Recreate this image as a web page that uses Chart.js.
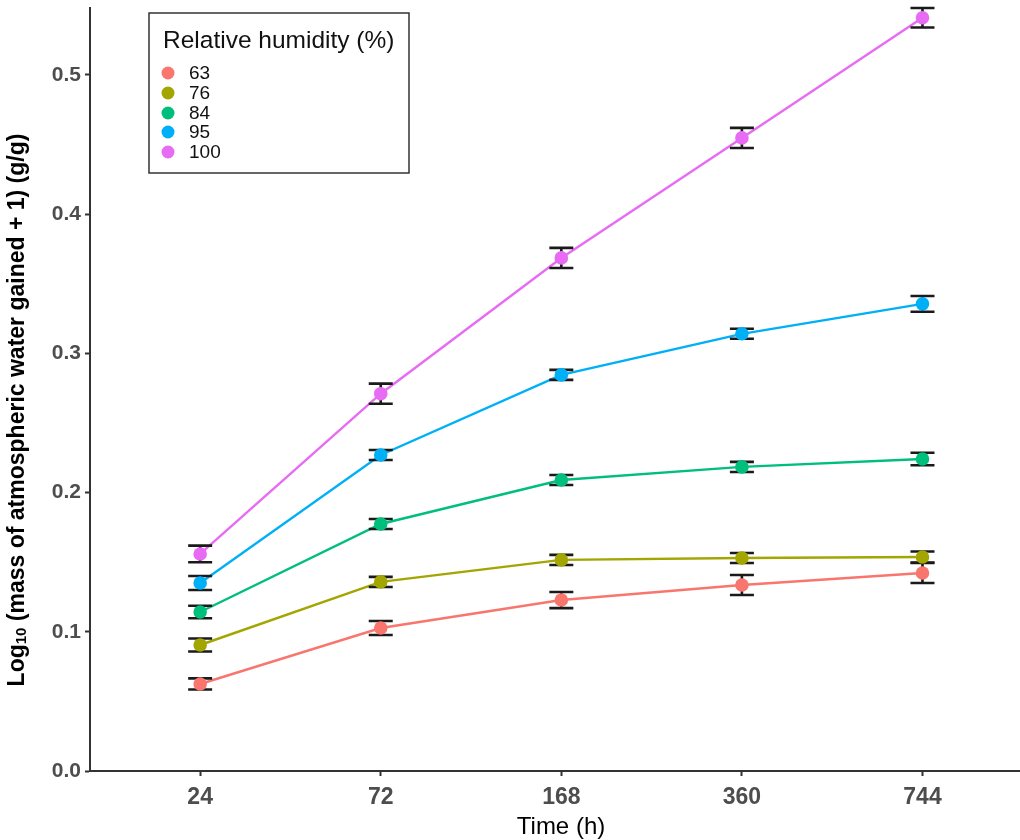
<!DOCTYPE html>
<html>
<head>
<meta charset="utf-8">
<title>Atmospheric water gain</title>
<script src="https://cdn.jsdelivr.net/npm/chart.js@4.4.6/dist/chart.umd.min.js"></script>
<style>
  body { margin: 0; background: #ffffff; }
  #wrap { width: 1020px; height: 840px; }
</style>
</head>
<body>
<div id="wrap"><canvas id="graficaAgua" width="1020" height="840"></canvas></div>
<script>
// categories on the x axis (hours)
const tiempos = ["24", "72", "168", "360", "744"];
const yTicks = [0, 0.1, 0.2, 0.3, 0.4, 0.5];

// relative humidity groups
const humedades = ["63", "76", "84", "95", "100"];
const colores = ["#F8766D", "#A3A500", "#00BF7D", "#00B0F6", "#E76BF3"];

// mean log10(mass gained + 1) per humidity, one value per time
const hr63 = [0.0625, 0.1027, 0.1228, 0.1336, 0.1422];
const hr76 = [0.0905, 0.1358, 0.1516, 0.1530, 0.1537];
const hr84 = [0.1142, 0.1774, 0.2090, 0.2184, 0.2241];
const hr95 = [0.1350, 0.2270, 0.2845, 0.3140, 0.3355];
const hr100 = [0.1559, 0.2710, 0.3685, 0.4547, 0.5410];

// standard errors
const err63 = [0.0040, 0.0050, 0.0058, 0.0072, 0.0072];
const err76 = [0.0047, 0.0036, 0.0036, 0.0036, 0.0040];
const err84 = [0.0045, 0.0036, 0.0036, 0.0036, 0.0045];
const err95 = [0.0050, 0.0036, 0.0036, 0.0036, 0.0057];
const err100 = [0.0060, 0.0072, 0.0072, 0.0072, 0.0070];

const medias = [hr63, hr76, hr84, hr95, hr100];
const errores = [err63, err76, err84, err95, err100];

const FUENTE = "'Liberation Sans', Arial, sans-serif";

function puntosSerie(valores) {
    return valores.map((v, j) => ({ x: j, y: v }));
}

// error bars go under the points but over the lines
const pluginErrores = {
    id: 'errores',
    beforeDatasetsDraw(chart) {
        chart.$erroresListos = false;
    },
    beforeDatasetDraw(chart, args) {
        const ds = chart.data.datasets[args.index];
        if (chart.$erroresListos || ds.tipo !== 'puntos') return;
        chart.$erroresListos = true;
        const ctx = chart.ctx;
        const xs = chart.scales.x;
        const ys = chart.scales.y;
        const medio = 12;
        ctx.save();
        ctx.strokeStyle = '#1a1a1a';
        ctx.lineWidth = 2.6;
        medias.forEach((serie, i) => {
            serie.forEach((v, j) => {
                const px = xs.getPixelForValue(j);
                const arriba = ys.getPixelForValue(v + errores[i][j]);
                const abajo = ys.getPixelForValue(v - errores[i][j]);
                ctx.beginPath();
                ctx.moveTo(px, arriba);
                ctx.lineTo(px, abajo);
                ctx.moveTo(px - medio, arriba);
                ctx.lineTo(px + medio, arriba);
                ctx.moveTo(px - medio, abajo);
                ctx.lineTo(px + medio, abajo);
                ctx.stroke();
            });
        });
        ctx.restore();
    }
};

// legend box inside the panel plus the two axis titles
const pluginLeyenda = {
    id: 'leyenda',
    afterDraw(chart) {
        const ctx = chart.ctx;
        ctx.save();
        ctx.fillStyle = '#ffffff';
        ctx.fillRect(149, 13, 260, 160);
        ctx.strokeStyle = '#333333';
        ctx.lineWidth = 1.5;
        ctx.strokeRect(149, 13, 260, 160);

        ctx.fillStyle = '#111111';
        ctx.textAlign = 'left';
        ctx.textBaseline = 'alphabetic';
        ctx.font = '24.5px ' + FUENTE;
        ctx.fillText('Relative humidity (%)', 163, 48);

        ctx.font = '19px ' + FUENTE;
        ctx.textBaseline = 'middle';
        const filas = [73, 93, 113, 132, 152];
        humedades.forEach((h, i) => {
            ctx.fillStyle = colores[i];
            ctx.beginPath();
            ctx.arc(168, filas[i], 6.5, 0, Math.PI * 2);
            ctx.fill();
            ctx.fillStyle = '#111111';
            ctx.fillText(h, 189, filas[i] + 1);
        });

        // axis titles
        ctx.fillStyle = '#000000';
        ctx.textAlign = 'center';
        ctx.textBaseline = 'middle';
        ctx.font = '24px ' + FUENTE;
        ctx.fillText('Time (h)', 561, 827);

        ctx.translate(18, 410);
        ctx.rotate(-Math.PI / 2);
        const a = 'Log';
        const sub = '10';
        const b = ' (mass of atmospheric water gained + 1) (g/g)';
        ctx.font = 'bold 23px ' + FUENTE;
        const wa = ctx.measureText(a).width;
        const wb = ctx.measureText(b).width;
        ctx.font = 'bold 15px ' + FUENTE;
        const ws = ctx.measureText(sub).width;
        const x0 = -(wa + ws + wb) / 2;
        ctx.textAlign = 'left';
        ctx.font = 'bold 23px ' + FUENTE;
        ctx.fillText(a, x0, 0);
        ctx.font = 'bold 15px ' + FUENTE;
        ctx.fillText(sub, x0 + wa, 4);
        ctx.font = 'bold 23px ' + FUENTE;
        ctx.fillText(b, x0 + wa + ws, 0);
        ctx.restore();
    }
};

document.addEventListener('DOMContentLoaded', function () {

    function crearDatasets() {
        const lineas = medias.map((serie, i) => ({
            label: humedades[i],
            tipo: 'linea',
            data: puntosSerie(serie),
            borderColor: colores[i],
            borderWidth: 2.4,
            pointRadius: 0,
            fill: false,
            tension: 0,
            order: 20 - i
        }));
        const puntos = medias.map((serie, i) => ({
            label: humedades[i],
            tipo: 'puntos',
            data: puntosSerie(serie),
            showLine: false,
            backgroundColor: colores[i],
            borderColor: colores[i],
            borderWidth: 0,
            pointRadius: 6.8,
            order: 10 - i
        }));
        return lineas.concat(puntos);
    }

    function renderGrafica() {
        const ctx = document.getElementById('graficaAgua').getContext('2d');
        new Chart(ctx, {
            type: 'line',
            data: { datasets: crearDatasets() },
            plugins: [pluginErrores, pluginLeyenda],
            options: {
                responsive: false,
                animation: false,
                layout: { autoPadding: false, padding: { top: 8, left: 0, right: 0, bottom: 0 } },
                plugins: {
                    legend: { display: false },
                    tooltip: { enabled: false }
                },
                scales: {
                    x: {
                        type: 'linear',
                        min: -0.61,
                        max: 4.54,
                        afterBuildTicks: (scale) => {
                            scale.ticks = tiempos.map((t, j) => ({ value: j }));
                        },
                        afterFit: (scale) => {
                            scale.height = 69;
                            scale.paddingLeft = 0;
                            scale.paddingRight = 0;
                        },
                        grid: {
                            drawOnChartArea: false,
                            tickLength: 5,
                            tickColor: '#333333',
                            tickWidth: 2
                        },
                        border: { display: true, color: '#333333', width: 2 },
                        ticks: {
                            padding: 8,
                            color: '#4D4D4D',
                            font: { family: FUENTE, size: 23, weight: 'bold' },
                            callback: (v) => tiempos[v]
                        }
                    },
                    y: {
                        type: 'linear',
                        min: 0,
                        max: 0.548,
                        afterBuildTicks: (scale) => {
                            scale.ticks = yTicks.map(v => ({ value: v }));
                        },
                        afterFit: (scale) => {
                            scale.width = 90;
                            scale.paddingTop = 0;
                            scale.paddingBottom = 0;
                        },
                        grid: {
                            drawOnChartArea: false,
                            tickLength: 5,
                            tickColor: '#333333',
                            tickWidth: 2
                        },
                        border: { display: true, color: '#333333', width: 2 },
                        ticks: {
                            padding: 4,
                            color: '#4D4D4D',
                            font: { family: FUENTE, size: 21, weight: 'bold' },
                            callback: (v) => v.toFixed(1)
                        }
                    }
                }
            }
        });
    }

    renderGrafica();
});
</script>
</body>
</html>
